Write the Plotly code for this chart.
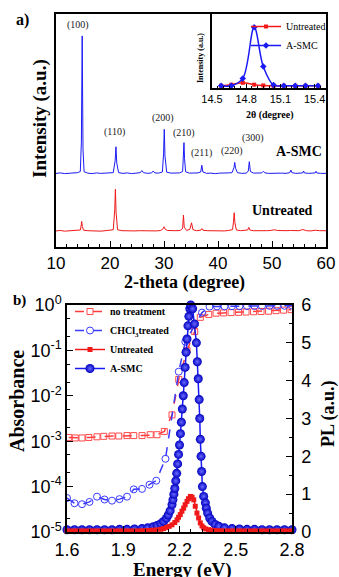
import plotly.graph_objects as go

# ---------------- Panel a: XRD ----------------
xrd_x_asmc = [10.0, 10.8, 11.6, 12.4, 13.2, 14.0, 14.5, 14.7, 14.85, 15.0, 15.2, 15.9, 16.7, 17.5, 18.3, 19.1, 19.9,
              20.6, 20.95, 21.1, 21.25, 21.6, 22.4, 23.2, 24.0, 24.8, 25.6, 25.9, 26.2, 27.0, 27.7, 28.0, 28.3, 29.0,
              29.7, 29.92, 30.05, 30.18, 30.5, 31.3, 32.1, 32.9, 33.45, 33.6, 33.7, 33.8, 34.0, 34.7, 35.5, 36.3, 36.8,
              37.0, 37.2, 37.9, 38.7, 39.5, 40.3, 41.1, 41.9, 42.6, 42.95, 43.1, 43.25, 43.6, 44.4, 45.2, 45.6, 45.8,
              46.0, 46.6, 47.4, 48.1, 48.4, 48.7, 49.4, 50.2, 51.0, 51.8, 52.6, 53.3, 53.5, 53.7, 54.4, 55.2, 55.7,
              55.85, 56.0, 56.8, 57.6, 58.0, 58.15, 58.3, 59.0, 59.6, 60.0]
xrd_y_asmc = [31.6, 31.8, 31.5, 31.7, 31.6, 31.9, 32.4, 45.0, 90.6, 42.0, 32.3, 31.7, 31.5, 31.8, 31.6, 31.7, 31.5,
              31.9, 37.0, 43.0, 36.0, 31.9, 31.6, 31.8, 31.5, 31.7, 31.9, 32.8, 31.9, 31.6, 31.8, 32.6, 31.8, 31.7,
              32.2, 40.0, 50.5, 39.0, 32.1, 31.7, 31.6, 31.8, 32.4, 38.0, 44.8, 38.0, 32.3, 31.7, 31.6, 31.8, 32.2,
              35.1, 32.2, 31.6, 31.7, 31.5, 31.7, 31.6, 31.8, 31.9, 34.0, 36.3, 33.8, 31.9, 31.6, 31.7, 32.5, 36.6,
              32.4, 31.7, 31.6, 31.8, 32.5, 31.8, 31.6, 31.7, 31.5, 31.7, 31.6, 31.9, 33.0, 31.9, 31.6, 31.7, 31.8,
              32.6, 31.8, 31.6, 31.7, 31.8, 32.5, 31.8, 31.6, 31.7, 31.6]

xrd_x_untreated = [10.0, 10.8, 11.6, 12.4, 13.2, 14.0, 14.5, 14.65, 14.76, 14.88, 15.1, 15.9, 16.7, 17.5, 18.3, 19.1,
                   19.9, 20.6, 20.88, 21.0, 21.12, 21.4, 22.2, 23.0, 23.8, 24.6, 25.4, 26.2, 27.0, 27.8, 28.6, 29.4,
                   29.85, 30.0, 30.15, 30.6, 31.4, 32.2, 33.0, 33.45, 33.6, 33.75, 34.2, 34.8, 35.1, 35.35, 36.0, 36.8,
                   37.0, 37.2, 38.0, 38.8, 39.6, 40.4, 41.2, 42.0, 42.7, 42.88, 43.0, 43.12, 43.4, 44.2, 45.0, 45.5,
                   45.7, 45.9, 46.6, 47.4, 48.2, 49.0, 49.8, 50.4, 51.0, 51.8, 52.6, 53.4, 54.2, 55.0, 55.7, 56.4,
                   57.2, 58.0, 58.8, 59.5, 60.0]
xrd_y_untreated = [6.9, 7.1, 6.8, 7.0, 6.9, 7.1, 7.3, 9.0, 11.0, 8.8, 7.2, 7.0, 6.9, 7.1, 6.8, 7.0,
                   7.1, 7.4, 16.0, 24.8, 15.0, 7.4, 7.0, 6.9, 7.1, 6.9, 7.0, 6.9, 7.1, 7.0, 6.9, 7.1,
                   7.9, 8.7, 7.8, 7.1, 6.9, 7.0, 7.1, 8.0, 13.7, 8.5, 7.1, 7.6, 10.4, 7.5, 7.0, 7.2,
                   7.9, 7.2, 7.0, 6.9, 7.1, 7.0, 6.9, 7.1, 7.5, 11.0, 14.7, 10.5, 7.3, 7.0, 7.1, 7.3,
                   8.4, 7.3, 7.0, 6.9, 7.1, 7.0, 7.1, 7.4, 7.1, 6.9, 7.0, 7.1, 6.9, 7.0, 7.5, 7.0,
                   6.9, 7.2, 7.0, 6.9, 7.0]

peak_labels = ["(100)", "(110)", "(200)", "(210)", "(211)", "(220)", "(300)"]
peak_label_x = [14.1, 20.9, 29.8, 33.7, 36.9, 42.6, 46.4]
peak_label_y = [95.3, 49.4, 55.4, 48.9, 40.3, 41.2, 46.8]

# inset
inset_x = [14.58, 14.67, 14.77, 14.87, 14.95, 15.04, 15.13, 15.23, 15.32, 15.43]
inset_asmc = [0.03, 0.03, 0.13, 0.82, 0.29, 0.04, 0.03, 0.03, 0.03, 0.03]
inset_untreated = [0.03, 0.045, 0.07, 0.045, 0.035, 0.03, 0.03, 0.03, 0.03, 0.03]
inset_ticks = [14.5, 14.8, 15.1, 15.4]

# ---------------- Panel b: absorbance & PL ----------------
abs_x_none = [1.609, 1.644, 1.680, 1.716, 1.760, 1.796, 1.840, 1.876, 1.920, 1.956, 2.000, 2.044, 2.080, 2.119,
              2.160, 2.196, 2.240, 2.281, 2.311, 2.356, 2.395, 2.435, 2.475, 2.515, 2.555, 2.595, 2.635, 2.675,
              2.715, 2.755, 2.795]
abs_y_none = [1.21e-3, 1.18e-3, 1.18e-3, 1.21e-3, 1.25e-3, 1.28e-3, 1.30e-3, 1.30e-3, 1.33e-3, 1.33e-3, 1.33e-3,
              1.39e-3, 1.39e-3, 1.64e-3, 3.8e-3, 2.3e-2, 0.10, 0.26, 0.535, 0.62, 0.66, 0.67, 0.68, 0.69, 0.70,
              0.71, 0.72, 0.73, 0.75, 0.77, 0.79]

abs_x_chcl3 = [1.600, 1.640, 1.680, 1.720, 1.760, 1.800, 1.840, 1.880, 1.920, 1.956, 2.000, 2.040, 2.076, 2.125,
               2.196, 2.231, 2.320, 2.360, 2.400, 2.440, 2.480, 2.520, 2.560, 2.600, 2.640, 2.680, 2.720, 2.760,
               2.800]
abs_y_chcl3 = [5.6e-5, 4.3e-5, 4.1e-5, 4.6e-5, 6.0e-5, 5.2e-5, 4.9e-5, 5.3e-5, 6.0e-5, 8.7e-5, 8.9e-5, 1.1e-4,
               1.35e-4, 4.1e-4, 3.4e-2, 0.156, 0.68, 0.92, 0.93, 0.93, 0.94, 0.94, 0.95, 0.95, 0.95, 0.96, 0.96,
               0.96, 0.97]

pl_x_asmc = [1.60, 1.64, 1.68, 1.72, 1.76, 1.80, 1.84, 1.88, 1.92, 1.96, 2.00, 2.03, 2.06, 2.08, 2.10, 2.115,
             2.13, 2.14, 2.15, 2.16, 2.165, 2.17, 2.175, 2.18, 2.185, 2.19, 2.195, 2.20, 2.205, 2.21, 2.215, 2.22,
             2.225, 2.23, 2.235, 2.24, 2.245, 2.25, 2.255, 2.26, 2.27, 2.28, 2.29, 2.295, 2.30, 2.305, 2.308,
             2.311, 2.315, 2.318, 2.322, 2.329, 2.338, 2.343, 2.35, 2.361, 2.373, 2.39, 2.41, 2.44, 2.48, 2.52,
             2.56, 2.60, 2.64, 2.68, 2.72, 2.76, 2.80]
pl_y_asmc = [0.06, 0.06, 0.06, 0.06, 0.06, 0.06, 0.06, 0.07, 0.07, 0.08, 0.09, 0.11, 0.14, 0.17, 0.22, 0.28,
             0.36, 0.45, 0.56, 0.72, 0.85, 1.0, 1.15, 1.35, 1.55, 1.8, 2.05, 2.3, 2.6, 2.9, 3.25, 3.6,
             3.95, 4.35, 4.75, 5.1, 5.45, 5.7, 5.9, 6.0, 5.9, 5.5, 5.0, 4.5, 4.05, 3.5, 3.0,
             2.45, 2.0, 1.6, 1.2, 0.94, 0.77, 0.63, 0.5, 0.37, 0.28, 0.2, 0.15, 0.11, 0.09, 0.08,
             0.07, 0.07, 0.06, 0.06, 0.06, 0.06, 0.06]

pl_x_untreated = [1.60, 1.625, 1.65, 1.675, 1.70, 1.725, 1.75, 1.775, 1.80, 1.825, 1.85, 1.875, 1.90, 1.925, 1.95,
                  1.975, 2.00, 2.025, 2.05, 2.075, 2.10, 2.115, 2.13, 2.145, 2.16, 2.175, 2.187, 2.195, 2.204,
                  2.213, 2.222, 2.23, 2.24, 2.248, 2.258, 2.267, 2.276, 2.284, 2.293, 2.302, 2.311, 2.32, 2.329,
                  2.34, 2.355, 2.37, 2.39, 2.415, 2.44, 2.465, 2.49, 2.515, 2.54, 2.565, 2.59, 2.615, 2.64, 2.665,
                  2.69, 2.715, 2.74, 2.765, 2.79]
pl_y_untreated = [0.03, 0.03, 0.03, 0.03, 0.03, 0.03, 0.03, 0.03, 0.03, 0.03, 0.03, 0.03, 0.03, 0.03, 0.03,
                  0.03, 0.035, 0.04, 0.045, 0.055, 0.07, 0.09, 0.12, 0.15, 0.19, 0.25, 0.32, 0.39, 0.46,
                  0.55, 0.63, 0.72, 0.81, 0.88, 0.94, 0.92, 0.85, 0.68, 0.50, 0.37, 0.24, 0.16, 0.11,
                  0.08, 0.06, 0.05, 0.04, 0.035, 0.03, 0.03, 0.03, 0.03, 0.03, 0.03, 0.03, 0.03, 0.03, 0.03,
                  0.03, 0.03, 0.03, 0.03, 0.03]

abs_tickvals = [1e-5, 1e-4, 1e-3, 1e-2, 1e-1, 1]
abs_ticktext = ["10<sup>-5</sup>", "10<sup>-4</sup>", "10<sup>-3</sup>", "10<sup>-2</sup>", "10<sup>-1</sup>",
                "10<sup>0</sup>"]

for a, b in [(xrd_x_asmc, xrd_y_asmc), (xrd_x_untreated, xrd_y_untreated), (abs_x_none, abs_y_none),
             (abs_x_chcl3, abs_y_chcl3), (pl_x_asmc, pl_y_asmc), (pl_x_untreated, pl_y_untreated)]:
    assert len(a) == len(b), (len(a), len(b))

RED = "#f01818"
BLUE = "#1a1af5"
SERIF = "Liberation Serif"
SANS = "Liberation Sans"
W, H = 339, 577


def px(x):
    return x / W


def py(y):
    return 1 - y / H


fig = go.Figure()

# panel b absorbance
fig.add_trace(go.Scatter(x=abs_x_none, y=abs_y_none, xaxis="x3", yaxis="y3", mode="lines+markers",
                         name="no treatment", legend="legend", legendrank=1,
                         line=dict(color="#ff3a3a", width=1.5, dash="dash"),
                         marker=dict(symbol="square-open", size=6, color="#ff4a4a", line=dict(width=1))))
fig.add_trace(go.Scatter(x=abs_x_chcl3, y=abs_y_chcl3, xaxis="x3", yaxis="y3", mode="lines+markers",
                         name="CHCl<sub>3</sub>treated", legend="legend", legendrank=2,
                         line=dict(color="#3a3aff", width=1.5, dash="dash"),
                         marker=dict(symbol="circle-open", size=7, color="#3a3aff", line=dict(width=1))))
# panel b PL
fig.add_trace(go.Scatter(x=pl_x_asmc, y=pl_y_asmc, xaxis="x3", yaxis="y4", mode="lines+markers",
                         name="A-SMC", legend="legend", legendrank=4, cliponaxis=False,
                         line=dict(color=BLUE, width=1.5),
                         marker=dict(symbol="circle", size=9, color="#0000c0",
                                     gradient=dict(type="radial", color="#6a6aff"))))
fig.add_trace(go.Scatter(x=pl_x_untreated, y=pl_y_untreated, xaxis="x3", yaxis="y4", mode="lines+markers",
                         name="Untreated", legend="legend", legendrank=3, cliponaxis=False,
                         line=dict(color=RED, width=1.5),
                         marker=dict(symbol="square", size=5, color=RED)))

# panel a XRD
fig.add_trace(go.Scatter(x=xrd_x_asmc, y=xrd_y_asmc, xaxis="x", yaxis="y", mode="lines", showlegend=False,
                         line=dict(color=BLUE, width=1.0)))
fig.add_trace(go.Scatter(x=xrd_x_untreated, y=xrd_y_untreated, xaxis="x", yaxis="y", mode="lines",
                         showlegend=False, line=dict(color=RED, width=1.0)))

# inset
fig.add_trace(go.Scatter(x=inset_x, y=inset_untreated, xaxis="x2", yaxis="y2", mode="lines+markers",
                         name="Untreated", legend="legend2", line=dict(color=RED, width=1.5, shape="spline"),
                         marker=dict(symbol="square", size=4, color=RED)))
fig.add_trace(go.Scatter(x=inset_x, y=inset_asmc, xaxis="x2", yaxis="y2", mode="lines+markers",
                         name="A-SMC", legend="legend2", line=dict(color=BLUE, width=1.5, shape="spline"),
                         marker=dict(symbol="diamond", size=5, color=BLUE)))

axis_common = dict(showline=True, linecolor="black", linewidth=1.5, mirror=True, showgrid=False,
                   zeroline=False, automargin=False)


def ann(x, y, text, size, angle=0, ref="paper", color="black"):
    d = dict(x=x, y=y, xref="x" if ref == "data" else "paper", yref="y" if ref == "data" else "paper",
             text=text, showarrow=False, xanchor="center", yanchor="middle", textangle=angle,
             font=dict(family=SERIF, size=size, color=color))
    return d


annotations = []
for lbl, lx, ly in zip(peak_labels, peak_label_x, peak_label_y):
    annotations.append(ann(lx, ly, lbl, 10, ref="data", color="#222"))
annotations += [
    ann(55.0, 40.8, "<b>A-SMC</b>", 14, ref="data"),
    ann(51.9, 15.5, "<b>Untreated</b>", 14, ref="data"),
    ann(px(22), py(20), "<b>a)</b>", 16),
    ann(px(19), py(300), "<b>b)</b>", 15),
    ann(px(184), py(282), "<b>2-theta (degree)</b>", 18),
    ann(px(40), py(119), "<b>Intensity (a.u.)</b>", 19, angle=-90),
    ann(px(270), py(115), "<b>2θ (degree)</b>", 10),
    ann(px(200), py(58), "<b>Intensity (a.u.)</b>", 8, angle=-90),
    ann(px(17), py(401), "<b>Absorbance</b>", 20, angle=-90),
    ann(px(328), py(414), "<b>PL (a.u.)</b>", 18, angle=-90),
    ann(px(183), py(570), "<b>Energy (eV)</b>", 19),
]

fig.update_layout(
    width=W, height=H, autosize=False, margin=dict(l=0, r=0, t=0, b=0, pad=0, autoexpand=False),
    paper_bgcolor="white", plot_bgcolor="white",
    xaxis=dict(domain=[px(56), px(326)], range=[10, 60], anchor="y", tick0=10, dtick=10, ticks="inside",
               ticklen=6, tickwidth=1.3, tickcolor="black", ticklabelstandoff=0,
               tickfont=dict(family=SANS, size=17, color="black"),
               minor=dict(dtick=2, tick0=10, ticks="inside", ticklen=3, tickwidth=1, tickcolor="black"),
               **axis_common),
    yaxis=dict(domain=[py(247), py(14)], range=[0, 100], anchor="x", showticklabels=False, ticks="",
               **axis_common),
    xaxis2=dict(domain=[px(212), px(326)], range=[14.5, 15.5], anchor="y2", tickvals=inset_ticks,
                ticks="inside", ticklen=4, tickwidth=1.2, tickcolor="black",
                tickfont=dict(family=SANS, size=11, color="black"),
                minor=dict(dtick=0.05, tick0=14.5, ticks="inside", ticklen=2.5, tickwidth=1, tickcolor="black"),
                **axis_common),
    yaxis2=dict(domain=[py(88), py(14)], range=[0, 1.0], anchor="x2", showticklabels=False, ticks="",
                **axis_common),
    xaxis3=dict(domain=[px(67), px(292)], range=[1.6, 2.8], anchor="y3", tick0=1.6, dtick=0.3,
                ticks="inside", ticklen=6, tickwidth=1.3, tickcolor="black", ticklabelstandoff=1,
                tickfont=dict(family=SANS, size=18, color="black"),
                minor=dict(dtick=0.06, tick0=1.6, ticks="inside", ticklen=3, tickwidth=1, tickcolor="black"),
                **axis_common),
    yaxis3=dict(domain=[py(532), py(305)], type="log", range=[-5, 0], anchor="x3", tickvals=abs_tickvals,
                ticktext=abs_ticktext, ticks="inside", ticklen=6, tickwidth=1.3, tickcolor="black",
                tickfont=dict(family=SANS, size=18, color="black"),
                minor=dict(ticks="inside", ticklen=3, tickwidth=1, tickcolor="black"),
                **axis_common),
    yaxis4=dict(overlaying="y3", side="right", anchor="x3", range=[0, 6], dtick=1, ticks="inside",
                ticklen=6, tickwidth=1.3, tickcolor="black", showline=True, linecolor="black", linewidth=1.5,
                showgrid=False, zeroline=False, ticklabelstandoff=4, automargin=False,
                tickfont=dict(family=SANS, size=18, color="black"),
                minor=dict(dtick=0.5, ticks="inside", ticklen=3, tickwidth=1, tickcolor="black")),
    legend=dict(x=px(70), y=py(297), xanchor="left", yanchor="top", bgcolor="rgba(0,0,0,0)",
                font=dict(family=SERIF, size=10, color="black", weight="bold"), tracegroupgap=0,
                itemwidth=30),
    legend2=dict(x=px(246), y=py(12), xanchor="left", yanchor="top", bgcolor="rgba(0,0,0,0)",
                 font=dict(family=SERIF, size=10, color="black"), tracegroupgap=0, itemwidth=30),
    annotations=annotations,
)

fig.write_html("out.html", config={"displayModeBar": False},
               post_script="document.body.style.margin='0px';")
